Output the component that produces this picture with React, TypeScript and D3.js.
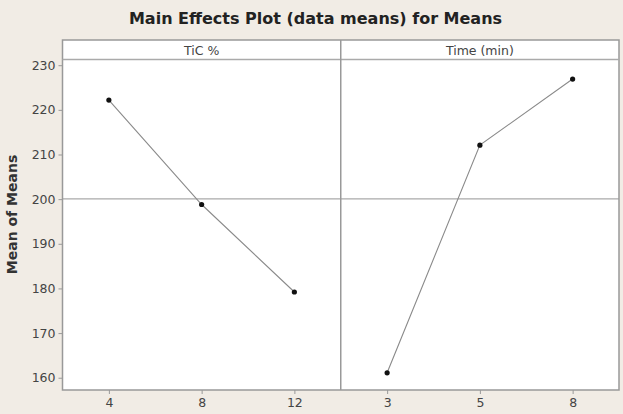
import React, { useEffect, useRef } from "react";
import * as d3 from "d3";

const title = "Main Effects Plot (data means) for Means";
const yLabel = "Mean of Means";
const factors = ["TiC %", "Time (min)"];
const ticLevels = ["4", "8", "12"];
const ticMeans = [222.2, 198.8, 179.2];
const timeLevels = ["3", "5", "8"];
const timeMeans = [161.1, 212.1, 226.9];
const yTicks = [160, 170, 180, 190, 200, 210, 220, 230];

const App = () => {
  const svgRef = useRef<SVGSVGElement>(null);
  useEffect(() => {
    const svg = d3.select(svgRef.current);
    svg.selectAll("*").remove();
    const width = 623;
    const height = 414;
    const left = 62.5;
    const right = 619;
    const top = 40;
    const stripH = 19.5;
    const bottom = 390;
    const font = "DejaVu Sans, Verdana, sans-serif";

    svg.append("rect").attr("width", width).attr("height", height).attr("fill", "#f1ece5");

    const yScale = d3.scaleLinear().domain([157.25, 231.28]).range([bottom, top + stripH]);
    const panelW = (right - left) / 2;
    const panels = [
      { name: factors[0], levels: ticLevels, means: ticMeans },
      { name: factors[1], levels: timeLevels, means: timeMeans },
    ];
    const grand = d3.mean(ticMeans) as number;

    svg.append("rect")
      .attr("x", left).attr("y", top)
      .attr("width", right - left).attr("height", bottom - top)
      .attr("fill", "#fff");

    panels.forEach((p, i) => {
      const x0 = left + i * panelW;
      const xScale = d3.scalePoint<string>()
        .domain(p.levels)
        .range([x0, x0 + panelW])
        .padding(0.5);
      const g = svg.append("g");
      g.append("text")
        .attr("x", x0 + panelW / 2).attr("y", top + 15)
        .attr("text-anchor", "middle")
        .attr("font-family", font).attr("font-size", 12.5)
        .attr("fill", "#444")
        .text(p.name);
      g.append("g")
        .attr("transform", `translate(0,${bottom})`)
        .call(d3.axisBottom(xScale).tickSize(4).tickPadding(4))
        .call((a) => a.select(".domain").remove())
        .call((a) => a.selectAll("line").attr("stroke", "#999"))
        .call((a) => a.selectAll("text").attr("font-family", font).attr("font-size", 12.5).attr("fill", "#444"));
      g.append("line")
        .attr("x1", x0).attr("x2", x0 + panelW)
        .attr("y1", yScale(grand)).attr("y2", yScale(grand))
        .attr("stroke", "#aaa").attr("stroke-width", 1.3);
      const line = d3.line<number>()
        .x((_, j) => xScale(p.levels[j]) as number)
        .y((d) => yScale(d));
      g.append("path")
        .attr("d", line(p.means))
        .attr("fill", "none")
        .attr("stroke", "#8a8a8a").attr("stroke-width", 1.1);
      g.selectAll("circle")
        .data(p.means)
        .join("circle")
        .attr("cx", (_, j) => xScale(p.levels[j]) as number)
        .attr("cy", (d) => yScale(d))
        .attr("r", 2.6)
        .attr("fill", "#111");
    });

    svg.append("g")
      .attr("transform", `translate(${left},0)`)
      .call(d3.axisLeft(yScale).tickValues(yTicks).tickSize(4).tickPadding(3))
      .call((a) => a.select(".domain").remove())
      .call((a) => a.selectAll("line").attr("stroke", "#999"))
      .call((a) => a.selectAll("text").attr("font-family", font).attr("font-size", 12.5).attr("fill", "#444"));

    // frame, strip and divider
    svg.append("rect")
      .attr("x", left).attr("y", top)
      .attr("width", right - left).attr("height", bottom - top)
      .attr("fill", "none").attr("stroke", "#999").attr("stroke-width", 1.5);
    svg.append("line")
      .attr("x1", left).attr("x2", right)
      .attr("y1", top + stripH).attr("y2", top + stripH)
      .attr("stroke", "#aaa").attr("stroke-width", 1.5);
    svg.append("line")
      .attr("x1", left + panelW).attr("x2", left + panelW)
      .attr("y1", top).attr("y2", bottom)
      .attr("stroke", "#999").attr("stroke-width", 1.5);

    svg.append("text")
      .attr("x", 315.5).attr("y", 24)
      .attr("text-anchor", "middle")
      .attr("font-family", font).attr("font-size", 16).attr("font-weight", "bold")
      .attr("fill", "#222")
      .text(title);
    svg.append("text")
      .attr("transform", "rotate(-90)")
      .attr("x", -214.5).attr("y", 17)
      .attr("text-anchor", "middle")
      .attr("font-family", font).attr("font-size", 14).attr("font-weight", "bold")
      .attr("fill", "#333")
      .text(yLabel);
  }, []);
  return (
    <svg ref={svgRef} width={623} height={414} style={{ position: "absolute", left: 0, top: 0 }}></svg>
  );
};

export default App;
